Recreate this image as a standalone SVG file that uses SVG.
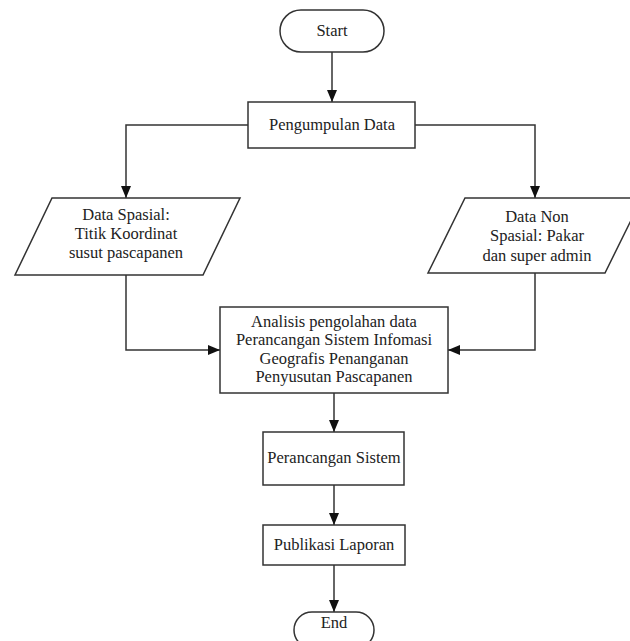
<svg xmlns="http://www.w3.org/2000/svg" width="630" height="641" viewBox="0 0 630 641">
  <style>
    .shape { fill: #ffffff; stroke: #333333; stroke-width: 1.5; }
    .edge { fill: none; stroke: #333333; stroke-width: 1.5; marker-end: url(#arrow); }
    text { font-family: "Liberation Serif", "Times New Roman", serif; font-size: 16.5px; fill: #222222; text-anchor: middle; }
  </style>
  <defs>
    <marker id="arrow" viewBox="0 0 12 10" refX="12" refY="5" markerWidth="12" markerHeight="10" markerUnits="userSpaceOnUse" orient="auto">
      <path d="M0,0 L12,5 L0,10 Z" fill="#111111"/>
    </marker>
  </defs>
  <rect width="630" height="641" fill="#ffffff"/>

  <g id="connectors">
    <path class="edge" d="M332,52 V102"/>
    <path class="edge" d="M248,125 H126 V198"/>
    <path class="edge" d="M415,125 H535 V198"/>
    <path class="edge" d="M126,275 V350 H220"/>
    <path class="edge" d="M535,273 V350 H448"/>
    <path class="edge" d="M334,393 V432"/>
    <path class="edge" d="M334,485 V525"/>
    <path class="edge" d="M334,565 V612"/>
  </g>

  <g id="start">
    <rect class="shape" x="280" y="10" width="104" height="42" rx="21" ry="21"/>
    <text x="332" y="36">Start</text>
  </g>

  <g id="pengumpulan-data">
    <rect class="shape" x="248" y="102" width="167" height="46"/>
    <text x="332" y="130">Pengumpulan Data</text>
  </g>

  <g id="data-spasial">
    <polygon class="shape" points="52,198 240,198 203,275 15,275"/>
    <text x="126" y="220">Data Spasial:</text>
    <text x="126" y="239">Titik Koordinat</text>
    <text x="126" y="258">susut pascapanen</text>
  </g>

  <g id="data-non-spasial">
    <polygon class="shape" points="465,198 642,198 605,273 428,273"/>
    <text x="537" y="222">Data Non</text>
    <text x="537" y="241">Spasial: Pakar</text>
    <text x="537" y="261">dan super admin</text>
  </g>

  <g id="analisis">
    <rect class="shape" x="220" y="307" width="228" height="86"/>
    <text x="334" y="327">Analisis pengolahan data</text>
    <text x="334" y="345">Perancangan Sistem Infomasi</text>
    <text x="334" y="364">Geografis Penanganan</text>
    <text x="334" y="382">Penyusutan Pascapanen</text>
  </g>

  <g id="perancangan-sistem">
    <rect class="shape" x="263" y="432" width="141" height="53"/>
    <text x="334" y="463">Perancangan Sistem</text>
  </g>

  <g id="publikasi-laporan">
    <rect class="shape" x="263" y="525" width="142" height="40"/>
    <text x="334" y="550">Publikasi Laporan</text>
  </g>

  <g id="end">
    <rect class="shape" x="294" y="612" width="80" height="36" rx="18" ry="18"/>
    <text x="334" y="628">End</text>
  </g>
</svg>
